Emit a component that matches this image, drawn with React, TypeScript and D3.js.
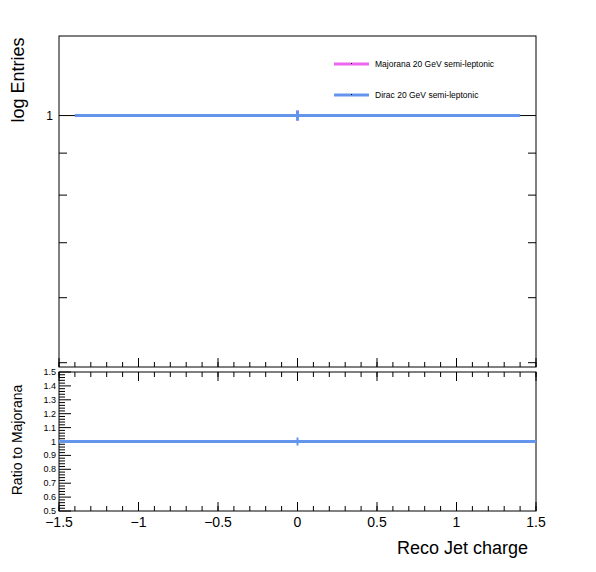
import React from "react";
import * as d3 from "d3";

const binEdges = [-1.4, 1.4];
const majoranaValues = [1];
const diracValues = [1];
const ratioValues = [1];
const xTicks = [-1.5, -1, -0.5, 0, 0.5, 1, 1.5];
const xTickLabels = ["\u22121.5", "\u22121", "\u22120.5", "0", "0.5", "1", "1.5"];
const logMinor = [0.5, 0.6, 0.7, 0.8, 0.9];
const ratioLabels = [0.5, 0.6, 0.7, 0.8, 0.9, 1, 1.1, 1.2, 1.3, 1.4, 1.5];
const legend = [
  { name: "Majorana 20 GeV semi-leptonic", color: "#ee66ee" },
  { name: "Dirac 20 GeV semi-leptonic", color: "#6495ed" },
];

export default function App() {
  const L = 59, R = 536, T1 = 36, B1 = 367, T2 = 372, B2 = 511;
  const x = d3.scaleLinear().domain([-1.5, 1.5]).range([L, R]);
  const y = d3.scaleLog().domain([0.494, 1.25]).range([B1, T1]);
  const yr = d3.scaleLinear().domain([0.5, 1.5]).range([B2, T2]);
  const font = "Liberation Sans, Arial, sans-serif";
  const minorX = d3.range(-1.5, 1.5001, 0.1);
  const minorR = d3.range(0.5, 1.5001, 0.02);
  const blue = "#6495ed";
  return (
    <svg width={596} height={572} style={{ position: "absolute", left: 0, top: 0 }} fontFamily={font}>
      <rect width={596} height={572} fill="white" />
      <rect x={L} y={T1} width={R - L} height={B1 - T1} fill="none" stroke="black" />
      {xTicks.map((t) => (
        <line key={t} x1={x(t)} x2={x(t)} y1={B1} y2={B1 - 9} stroke="black" />
      ))}
      {minorX.map((t, i) => (
        <line key={i} x1={x(t)} x2={x(t)} y1={B1} y2={B1 - 5} stroke="black" />
      ))}
      <line x1={L} x2={L + 16} y1={y(1)} y2={y(1)} stroke="black" />
      <line x1={R} x2={R - 16} y1={y(1)} y2={y(1)} stroke="black" />
      {logMinor.map((v) => (
        <g key={v}>
          <line x1={L} x2={L + 8} y1={y(v)} y2={y(v)} stroke="black" />
          <line x1={R} x2={R - 8} y1={y(v)} y2={y(v)} stroke="black" />
        </g>
      ))}
      <text x={L - 6} y={y(1) + 4} textAnchor="end" fontSize={12}>1</text>
      {[majoranaValues, diracValues].map((vals, k) => (
        <g key={k}>
          {vals.map((v, i) => (
            <g key={i}>
              <line x1={x(binEdges[i])} x2={x(binEdges[i + 1])} y1={y(v)} y2={y(v)} stroke={legend[k].color} strokeWidth={3} />
              <line x1={x((binEdges[i] + binEdges[i + 1]) / 2)} x2={x((binEdges[i] + binEdges[i + 1]) / 2)} y1={y(v) - 5} y2={y(v) + 5} stroke={legend[k].color} strokeWidth={3} />
            </g>
          ))}
        </g>
      ))}
      {legend.map((l, i) => (
        <g key={l.name}>
          <line x1={334} x2={369} y1={64 + i * 31} y2={64 + i * 31} stroke={l.color} strokeWidth={3} />
          <rect x={351} y={63 + i * 31} width={1} height={1} fill="black" />
          <text x={375} y={67 + i * 31} fontSize={8.5}>{l.name}</text>
        </g>
      ))}
      <text transform={`translate(24,80) rotate(-90)`} textAnchor="middle" fontSize={18}>log Entries</text>
      <rect x={L} y={T2} width={R - L} height={B2 - T2} fill="none" stroke="black" />
      {xTicks.map((t) => (
        <g key={t}>
          <line x1={x(t)} x2={x(t)} y1={B2} y2={B2 - 9} stroke="black" />
          <line x1={x(t)} x2={x(t)} y1={T2} y2={T2 + 9} stroke="black" />
        </g>
      ))}
      {minorX.map((t, i) => (
        <g key={i}>
          <line x1={x(t)} x2={x(t)} y1={B2} y2={B2 - 5} stroke="black" />
          <line x1={x(t)} x2={x(t)} y1={T2} y2={T2 + 5} stroke="black" />
        </g>
      ))}
      {minorR.map((v, i) => (
        <line key={i} x1={L} x2={L + (i % 5 === 0 ? 12 : 6)} y1={yr(v)} y2={yr(v)} stroke="black" />
      ))}
      {ratioLabels.map((v) => (
        <text key={v} x={L - 3} y={yr(v) + 3} textAnchor="end" fontSize={9}>{v}</text>
      ))}
      {ratioValues.map((v, i) => (
        <g key={i}>
          <line x1={L} x2={R} y1={yr(v)} y2={yr(v)} stroke={blue} strokeWidth={3} />
          <line x1={x(0)} x2={x(0)} y1={yr(v) - 4} y2={yr(v) + 4} stroke={blue} strokeWidth={2} />
        </g>
      ))}
      {xTickLabels.map((lab, i) => (
        <text key={lab} x={x(xTicks[i])} y={527} textAnchor="middle" fontSize={14}>{lab}</text>
      ))}
      <text x={528} y={554} textAnchor="end" fontSize={18}>Reco Jet charge</text>
      <text transform={`translate(22,440) rotate(-90)`} textAnchor="middle" fontSize={14}>Ratio to Majorana</text>
    </svg>
  );
}
